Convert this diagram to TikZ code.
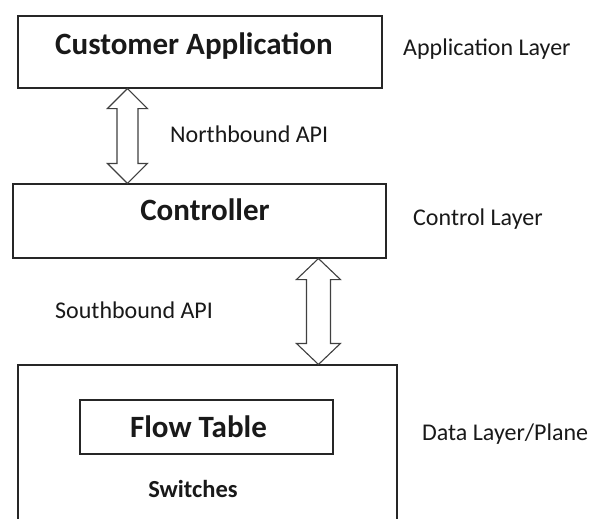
\documentclass[tikz,border=0pt]{standalone}
\usepackage{fontspec}
\setmainfont{Carlito}
\usetikzlibrary{calc}

% hollow two-headed arrow between two tip points:
% #1 top tip, #2 bottom tip, #3 head half-width, #4 head length, #5 shaft half-width
\newcommand\hollowupdown[5]{%
  \draw[arrowline] (#1) -- ($(#1)+(#3,#4)$) -- ($(#1)+(#5,#4)$)
    -- ($(#2)+(#5,-#4)$) -- ($(#2)+(#3,-#4)$) -- (#2)
    -- ($(#2)+(-#3,-#4)$) -- ($(#2)+(-#5,-#4)$)
    -- ($(#1)+(-#5,#4)$) -- ($(#1)+(-#3,#4)$) -- cycle;}

\begin{document}
\begin{tikzpicture}[x=1pt,y=-1pt,
  box/.style={draw=black!85,line width=1.1pt,inner sep=0pt},
  arrowline/.style={draw=black!75,line width=1.1pt,line join=miter,fill=white},
  title/.style={anchor=base,text=black!90,inner sep=0pt,
    font=\fontsize{31}{37}\selectfont\bfseries},
  subtitle/.style={anchor=base,text=black!90,inner sep=0pt,
    font=\fontsize{24.5}{29}\selectfont\bfseries},
  side/.style={anchor=base west,text=black!90,inner sep=0pt,
    font=\fontsize{24}{29}\selectfont}]
\useasboundingbox (0,0) rectangle (592,519);
\fill[white] (0,0) rectangle (592,519);

% layer boxes
\node[box,minimum width=364pt,minimum height=72pt] (app) at (200,52) {};
\node[box,minimum width=373pt,minimum height=74pt] (ctl) at (199.5,221) {};
\node[box,minimum width=379pt,minimum height=170pt] (data) at (207.5,450) {};
\node[box,minimum width=253pt,minimum height=54pt] (flow) at (206.5,427) {};

% box titles
\node[title] (apptxt) at (194,55) {Customer Application};
\node[title] (ctltxt) at (205,220) {Controller};
\node[title] (flowtxt) at (198.5,437) {Flow Table};
\node[subtitle] (swtxt) at (193,497) {Switches};

% layer names and interface labels
\node[side] (applayer) at (403,55.5) {Application Layer};
\node[side] (ctllayer) at (413,225.5) {Control Layer};
\node[side] (datalayer) at (422,440) {Data Layer/Plane};
\node[side] (nbapi) at (170,142) {Northbound API};
\node[side] (sbapi) at (55,318) {Southbound API};

% interface arrows
\coordinate (nt) at ($(app.south west)+(110,0)$);
\coordinate (nb) at (nt |- ctl.north);
\hollowupdown{nt}{nb}{20}{20}{10.5}
\coordinate (st) at ($(ctl.south west)+(306,0)$);
\coordinate (sb) at (st |- data.north);
\hollowupdown{st}{sb}{22}{21}{12}
\end{tikzpicture}
\end{document}
